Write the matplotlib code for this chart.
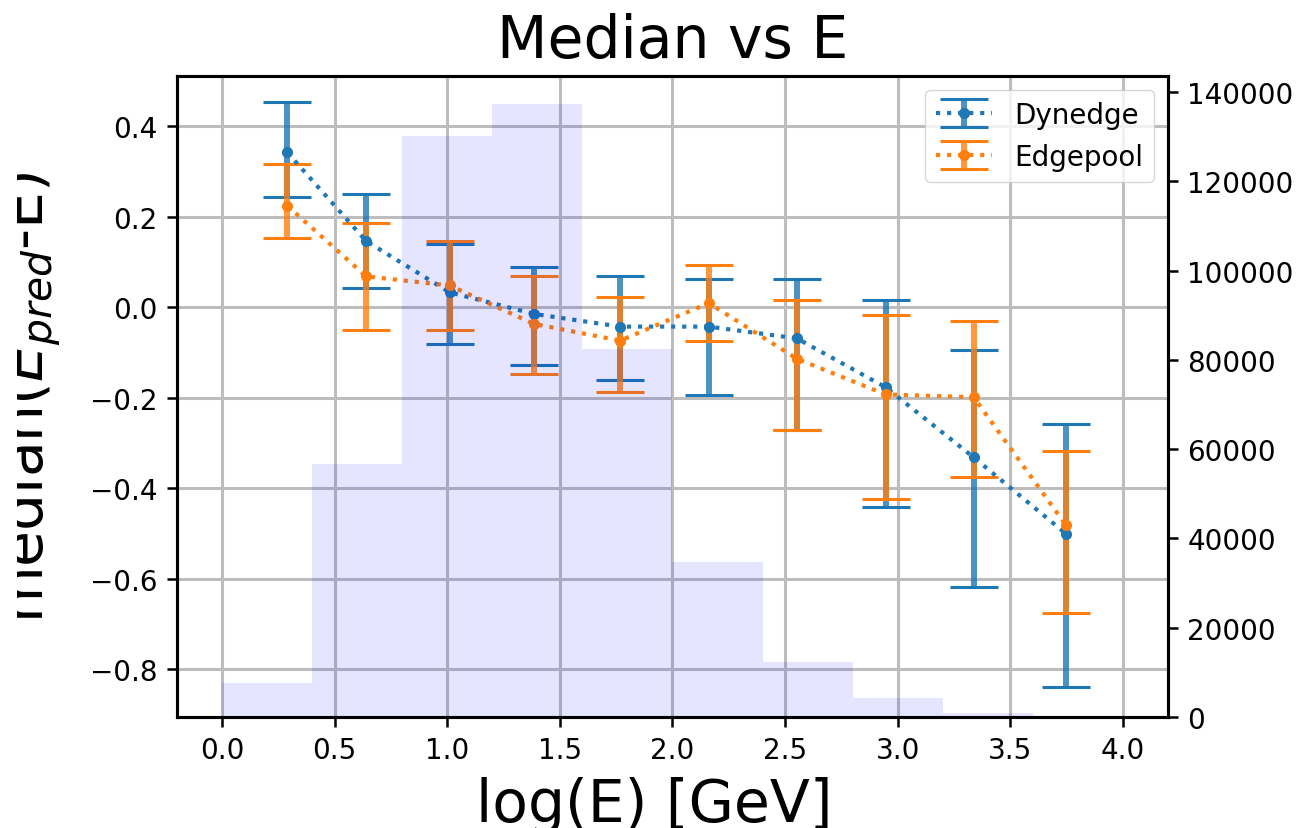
import numpy as np
import matplotlib
matplotlib.use("Agg")
import matplotlib.pyplot as plt
from matplotlib.transforms import Bbox, TransformedBbox

"""
__Data__
"""
log_e = [0.29, 0.64, 1.01, 1.385, 1.767, 2.161, 2.552, 2.946, 3.337, 3.747]

dyn_median = [0.342, 0.146, 0.033, -0.015, -0.043, -0.043, -0.069, -0.177, -0.332, -0.501]
dyn_upper = [0.453, 0.250, 0.139, 0.088, 0.068, 0.062, 0.062, 0.015, -0.095, -0.259]
dyn_lower = [0.243, 0.042, -0.082, -0.128, -0.161, -0.194, -0.272, -0.442, -0.619, -0.840]

pool_median = [0.224, 0.068, 0.048, -0.037, -0.074, 0.009, -0.114, -0.193, -0.199, -0.482]
pool_upper = [0.316, 0.186, 0.146, 0.068, 0.022, 0.093, 0.015, -0.017, -0.031, -0.319]
pool_lower = [0.152, -0.050, -0.050, -0.148, -0.188, -0.075, -0.272, -0.423, -0.376, -0.677]

hist_edges = [0.0, 0.4, 0.8, 1.2, 1.6, 2.0, 2.4, 2.8, 3.2, 3.6, 4.0]
hist_counts = [7600, 56700, 130200, 137300, 82400, 34700, 12300, 4200, 900, 100]

"""
__Plot__
"""
fig = plt.figure(figsize=(13.09, 8.29), dpi=100)
ax = fig.add_axes([0.1352, 0.1339, 0.7571, 0.7732])
ax2 = ax.twinx()

ax.grid(True, color="#bdbdbd", linewidth=2.2)
ax.set_axisbelow(True)

series = [
    (dyn_median, dyn_upper, dyn_lower, "tab:blue", "Dynedge"),
    (pool_median, pool_upper, pool_lower, "tab:orange", "Edgepool"),
]
for med, up, lo, col, lab in series:
    med = np.array(med)
    yerr = [med - np.array(lo), np.array(up) - med]
    eb = ax.errorbar(
        log_e,
        med,
        yerr=yerr,
        color=col,
        linestyle=":",
        linewidth=3,
        marker="o",
        markersize=7,
        elinewidth=4.3,
        capsize=17,
        capthick=2.2,
        label=lab,
    )
    eb[2][0].set_alpha(0.8)

ax2.hist(hist_edges[:-1], bins=hist_edges, weights=hist_counts, color="blue", alpha=0.1)

ax.set_xlim(-0.2, 4.2)
ax.set_ylim(-0.906, 0.511)
ax2.set_ylim(0, 143600)

ax.set_xticks(np.arange(0, 4.01, 0.5))
ax.set_yticks([-0.8, -0.6, -0.4, -0.2, 0.0, 0.2, 0.4])
ax2.set_yticks(np.arange(0, 140001, 20000))

for a in (ax, ax2):
    for s in a.spines.values():
        s.set_linewidth(2.2)
    a.tick_params(labelsize=20, length=7, width=1.8, pad=7)

ax.set_title("Median vs E", fontsize=42, pad=14)

ax.set_xlabel("log(E) [GeV]", fontsize=42, va="baseline")
ax.xaxis.set_label_coords(0.5, 1 - 822 / 829, transform=fig.transFigure)

ax.set_ylabel(r"median($E_{pred}$-E)", fontsize=42, rotation_mode="anchor", va="baseline", ha="center")
ax.yaxis.set_label_coords(43 / 1309, 0.5205, transform=fig.transFigure)
ylab = ax.yaxis.label
ylab.set_clip_on(True)
ylab.set_clip_box(TransformedBbox(Bbox([[17 / 1309, 0], [1, 1]]), fig.transFigure))

ax.legend(fontsize=20, loc="upper right")

fig.savefig("out.png", dpi=100)
